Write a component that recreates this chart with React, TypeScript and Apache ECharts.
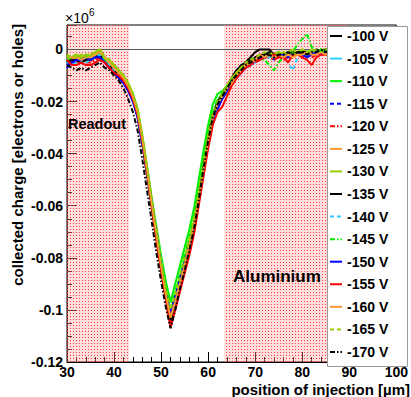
import React, { useEffect, useRef } from 'react';
import * as echarts from 'echarts';

// x positions of injection (µm)
const positions = [30,31,32,33,34,35,36,37,38,39,40,41,42,43,44,45,46,47,48,49,50,51,52,53,54,55,56,57,58,59,60,61,62,63,64,65,66,67,68,69,70,71,72,73,74,75,76,77,78,79,80,81,82,83,84,85,86];

const voltages = ['-100 V','-105 V','-110 V','-115 V','-120 V','-125 V','-130 V','-135 V','-140 V','-145 V','-150 V','-155 V','-160 V','-165 V','-170 V'];

// collected charge, units of 10^6
const v100 = [-0.003,-0.004,-0.003,-0.003,-0.004,-0.003,-0.003,-0.002,-0.004,-0.006, -0.007,-0.009,-0.011,-0.014,-0.018,-0.025,-0.035,-0.047,-0.060,-0.072, -0.084,-0.095,-0.104,-0.097,-0.090,-0.083,-0.075,-0.067,-0.056,-0.045, -0.034,-0.025,-0.020,-0.017,-0.014,-0.011,-0.008,-0.006,-0.005,-0.003, -0.001,0.000,0.000,0.000,-0.002,-0.001,-0.002,-0.001,-0.002,-0.001, -0.001,-0.002,-0.001,0.000,-0.001,0.000,-0.001];
const v105 = [-0.004,-0.005,-0.004,-0.004,-0.003,-0.004,-0.003,-0.002,-0.004,-0.006, -0.008,-0.009,-0.012,-0.015,-0.019,-0.025,-0.034,-0.045,-0.058,-0.070, -0.082,-0.093,-0.102,-0.096,-0.089,-0.082,-0.076,-0.069,-0.059,-0.048, -0.037,-0.028,-0.022,-0.019,-0.016,-0.013,-0.011,-0.009,-0.007,-0.006, -0.005,-0.004,-0.003,-0.003,-0.002,-0.003,-0.002,-0.003,-0.002,-0.001, -0.002,-0.001,-0.002,-0.001,-0.002,-0.001,-0.001];
const v110 = [-0.003,-0.003,-0.002,-0.003,-0.002,-0.003,-0.002,0.000,-0.003,-0.005, -0.006,-0.008,-0.010,-0.013,-0.017,-0.023,-0.033,-0.045,-0.057,-0.068, -0.079,-0.089,-0.097,-0.090,-0.083,-0.076,-0.069,-0.061,-0.050,-0.039, -0.029,-0.021,-0.017,-0.016,-0.014,-0.012,-0.010,-0.008,-0.006,-0.005, -0.004,-0.003,-0.002,-0.002,-0.003,-0.001,-0.002,-0.001,-0.001,-0.002, -0.001,-0.001,0.000,-0.001,0.000,-0.001,0.000];
const v115 = [-0.007,-0.005,-0.004,-0.003,-0.004,-0.003,-0.004,-0.003,-0.005,-0.007, -0.008,-0.010,-0.012,-0.015,-0.019,-0.026,-0.036,-0.047,-0.059,-0.071, -0.083,-0.094,-0.102,-0.095,-0.088,-0.081,-0.074,-0.067,-0.057,-0.046, -0.036,-0.027,-0.022,-0.018,-0.015,-0.012,-0.010,-0.008,-0.007,-0.005, -0.004,-0.004,-0.003,-0.002,-0.004,-0.002,-0.003,-0.002,-0.003,-0.001, -0.002,-0.002,-0.001,-0.002,-0.001,-0.001,-0.002];
const v120 = [-0.004,-0.005,-0.005,-0.004,-0.005,-0.005,-0.004,-0.003,-0.005,-0.007, -0.008,-0.010,-0.012,-0.015,-0.019,-0.025,-0.035,-0.047,-0.060,-0.072, -0.084,-0.095,-0.105,-0.098,-0.091,-0.084,-0.077,-0.069,-0.058,-0.047, -0.036,-0.027,-0.022,-0.019,-0.016,-0.013,-0.011,-0.009,-0.007,-0.006, -0.005,-0.004,-0.003,-0.003,-0.004,-0.003,-0.004,-0.003,-0.002,-0.002, -0.003,-0.002,-0.003,-0.002,-0.001,-0.002,-0.001];
const v125 = [-0.003,-0.004,-0.003,-0.003,-0.003,-0.003,-0.002,0.000,-0.003,-0.005, -0.007,-0.009,-0.011,-0.014,-0.018,-0.024,-0.034,-0.046,-0.058,-0.070, -0.082,-0.093,-0.101,-0.095,-0.088,-0.081,-0.074,-0.066,-0.056,-0.045, -0.034,-0.025,-0.021,-0.018,-0.014,-0.012,-0.009,-0.008,-0.006,-0.005, -0.004,-0.003,-0.002,-0.003,-0.002,-0.002,-0.001,-0.002,-0.001,-0.002, -0.001,-0.002,-0.001,-0.001,-0.002,-0.001,-0.001];
const v130 = [-0.002,-0.003,-0.002,-0.003,-0.002,-0.002,-0.001,0.000,-0.003,-0.004, -0.006,-0.008,-0.010,-0.013,-0.017,-0.023,-0.033,-0.045,-0.058,-0.070, -0.082,-0.092,-0.100,-0.094,-0.087,-0.080,-0.073,-0.066,-0.055,-0.044, -0.034,-0.025,-0.020,-0.017,-0.014,-0.011,-0.009,-0.007,-0.006,-0.004, -0.003,-0.003,-0.002,-0.001,-0.002,-0.001,-0.002,-0.001,0.000,-0.001, 0.000,-0.001,0.000,-0.001,0.000,0.000,-0.001];
const v135 = [-0.005,-0.004,-0.004,-0.005,-0.004,-0.004,-0.003,-0.002,-0.005,-0.006, -0.008,-0.010,-0.012,-0.015,-0.019,-0.026,-0.036,-0.048,-0.060,-0.072, -0.084,-0.095,-0.104,-0.097,-0.090,-0.083,-0.075,-0.067,-0.056,-0.045, -0.034,-0.025,-0.020,-0.017,-0.015,-0.012,-0.010,-0.008,-0.006,-0.004, -0.003,-0.002,-0.002,-0.001,-0.002,-0.002,-0.003,-0.002,-0.001,-0.002, -0.001,-0.001,-0.002,-0.001,-0.001,0.000,-0.001];
const v140 = [-0.005,-0.006,-0.005,-0.004,-0.005,-0.004,-0.003,-0.002,-0.004,-0.006, -0.008,-0.010,-0.012,-0.015,-0.020,-0.026,-0.035,-0.046,-0.058,-0.070, -0.082,-0.093,-0.101,-0.095,-0.088,-0.081,-0.075,-0.068,-0.058,-0.047, -0.037,-0.028,-0.022,-0.019,-0.016,-0.013,-0.011,-0.009,-0.007,-0.006, -0.004,-0.004,-0.003,-0.003,-0.003,-0.002,-0.003,-0.005,-0.008,-0.003, -0.002,-0.002,-0.001,-0.002,-0.001,-0.001,-0.002];
const v145 = [-0.004,-0.003,-0.003,-0.004,-0.003,-0.003,-0.002,-0.001,-0.004,-0.005, -0.007,-0.009,-0.011,-0.014,-0.018,-0.024,-0.034,-0.046,-0.058,-0.070, -0.081,-0.091,-0.099,-0.093,-0.086,-0.079,-0.072,-0.064,-0.053,-0.042, -0.032,-0.024,-0.019,-0.017,-0.014,-0.012,-0.010,-0.008,-0.006,-0.005, -0.004,-0.003,-0.004,-0.006,-0.008,-0.005,-0.003,-0.002,-0.001,0.002, 0.004,0.006,0.001,-0.001,0.000,-0.001,0.000];
const v150 = [-0.006,-0.005,-0.004,-0.004,-0.003,-0.004,-0.003,-0.003,-0.005,-0.007, -0.009,-0.011,-0.013,-0.016,-0.020,-0.026,-0.036,-0.047,-0.059,-0.071, -0.083,-0.094,-0.101,-0.095,-0.088,-0.082,-0.075,-0.068,-0.058,-0.047, -0.037,-0.028,-0.023,-0.019,-0.016,-0.013,-0.011,-0.009,-0.007,-0.006, -0.004,-0.003,-0.003,-0.002,-0.003,-0.002,-0.002,-0.003,-0.002,-0.002, -0.002,-0.003,-0.002,-0.001,-0.002,-0.001,-0.001];
const v155 = [-0.004,-0.006,-0.006,-0.005,-0.006,-0.006,-0.005,-0.004,-0.005,-0.007, -0.009,-0.010,-0.012,-0.015,-0.019,-0.025,-0.035,-0.047,-0.060,-0.073, -0.085,-0.096,-0.107,-0.100,-0.093,-0.086,-0.079,-0.071,-0.060,-0.049, -0.038,-0.029,-0.024,-0.022,-0.018,-0.014,-0.011,-0.009,-0.007,-0.006, -0.004,-0.004,-0.003,-0.002,-0.002,-0.003,-0.003,-0.005,-0.002,-0.002, -0.003,-0.004,-0.006,-0.003,-0.002,-0.002,-0.002];
const v160 = [-0.003,-0.003,-0.003,-0.004,-0.003,-0.003,-0.002,-0.001,-0.003,-0.005, -0.007,-0.009,-0.011,-0.014,-0.018,-0.024,-0.034,-0.046,-0.059,-0.071, -0.083,-0.094,-0.103,-0.097,-0.090,-0.083,-0.075,-0.067,-0.057,-0.046, -0.035,-0.026,-0.021,-0.018,-0.015,-0.013,-0.010,-0.008,-0.006,-0.005, -0.004,-0.002,-0.003,-0.002,-0.003,-0.002,-0.003,-0.002,-0.003,-0.002, -0.002,-0.001,-0.002,-0.002,-0.001,-0.002,-0.001];
const v165 = [-0.003,-0.002,-0.003,-0.002,-0.003,-0.002,-0.001,0.000,-0.003,-0.004, -0.006,-0.008,-0.010,-0.013,-0.017,-0.023,-0.033,-0.045,-0.057,-0.069, -0.081,-0.092,-0.100,-0.094,-0.087,-0.080,-0.073,-0.065,-0.055,-0.044, -0.033,-0.025,-0.020,-0.017,-0.014,-0.011,-0.009,-0.007,-0.005,-0.004, -0.003,-0.002,-0.001,-0.002,-0.001,-0.002,-0.001,-0.001,-0.002,-0.001, 0.000,-0.001,-0.001,0.000,-0.001,0.000,0.000];
const v170 = [-0.006,-0.007,-0.008,-0.007,-0.008,-0.007,-0.006,-0.005,-0.007,-0.008, -0.010,-0.012,-0.015,-0.019,-0.024,-0.031,-0.042,-0.054,-0.066,-0.078, -0.089,-0.099,-0.107,-0.100,-0.092,-0.085,-0.077,-0.069,-0.058,-0.046, -0.035,-0.026,-0.021,-0.018,-0.015,-0.012,-0.010,-0.008,-0.006,-0.005, -0.004,-0.003,-0.002,-0.002,-0.003,-0.002,-0.002,-0.001,-0.002,-0.001, -0.001,-0.002,-0.001,-0.001,0.000,-0.001,-0.001];

const seriesValues = [v100, v105, v110, v115, v120, v125, v130, v135, v140, v145, v150, v155, v160, v165, v170];

const seriesColors = ['#000000','#33ccff','#00ee00','#0000ff','#ff0000','#ff9933','#99cc00','#000000','#33ccff','#00ee00','#0000ff','#ff0000','#ff9933','#99cc00','#000000'];
const seriesDash = ['solid','solid','solid','dashed','dashdot','solid','solid','solid','dashed','dashdot','solid','solid','solid','dashed','dashdot'];

// shaded (metallised) regions in µm
const readoutRegion = [30, 43.2];
const aluminiumRegion = [63.4, 90];

const xTicks = { min: 30, max: 100, interval: 10 };
const yTicks = { min: -0.12, max: 0.0094, interval: 0.02 };

const FONT = 'Liberation Sans, Arial, Helvetica, sans-serif';

function dashOf(kind: string): any {
  if (kind === 'dashed') return [4, 3];
  if (kind === 'dashdot') return [5, 2, 1.5, 2];
  return 'solid';
}

export default function App() {
  const ref = useRef<HTMLDivElement>(null);

  useEffect(() => {
    if (!ref.current) return;
    const chart = echarts.init(ref.current, null, { renderer: 'svg' });

    const cv = document.createElement('canvas');
    cv.width = 3;
    cv.height = 3;
    const ctx = cv.getContext('2d');
    if (ctx) {
      ctx.fillStyle = 'rgba(255,160,160,0.35)';
      ctx.fillRect(0, 0, 3, 3);
      ctx.fillStyle = 'rgba(255,40,40,0.9)';
      ctx.fillRect(1, 1, 1, 1);
    }
    const pattern: any = { image: cv, repeat: 'repeat', imageWidth: 3, imageHeight: 3 };

    const series: any[] = seriesValues.map((vals, i) => ({
      name: voltages[i],
      type: 'line',
      data: positions.map((x, j) => [x, vals[j]]),
      symbol: 'none',
      z: 3,
      lineStyle: { color: seriesColors[i], width: 2, type: dashOf(seriesDash[i]) },
      itemStyle: { color: seriesColors[i] },
    }));

    series[0].markArea = {
      silent: true,
      z: 1,
      itemStyle: { color: pattern },
      data: [
        [{ xAxis: readoutRegion[0] }, { xAxis: readoutRegion[1] }],
        [{ xAxis: aluminiumRegion[0] }, { xAxis: aluminiumRegion[1] }],
      ],
    };
    series[0].markLine = {
      silent: true,
      z: 2,
      symbol: ['none', 'none'],
      label: { show: false },
      lineStyle: { color: '#555', width: 1, type: 'solid' },
      data: [{ yAxis: 0 }],
    };

    const labelStyle = { fontFamily: FONT, fontWeight: 'bold' as const, fontSize: 14, color: '#000' };

    // hand-built legend (so line dash styles show in the keys)
    const legendTop = 26;
    const legendFirst = 36;
    const legendStep = 22.57;
    const legendItems: any[] = [
      {
        type: 'rect', z: 30,
        shape: { x: 327.5, y: legendTop + 0.5, width: 80, height: 340 },
        style: { fill: '#fff', stroke: '#999', lineWidth: 1 },
      },
    ];
    voltages.forEach((name, i) => {
      const y = legendFirst + i * legendStep;
      const d = dashOf(seriesDash[i]);
      legendItems.push({
        type: 'line', z: 31,
        shape: { x1: 330, y1: y, x2: 342, y2: y },
        style: { stroke: seriesColors[i], lineWidth: 2, lineDash: d === 'solid' ? null : d },
      });
      legendItems.push({
        type: 'text', z: 31, x: 347, y,
        style: { text: name, fontFamily: FONT, fontWeight: 'bold', fontSize: 14, fill: '#000', textVerticalAlign: 'middle' },
      });
    });

    chart.setOption({
      animation: false,
      grid: { left: 67, top: 25, width: 331, height: 337, show: true, borderColor: '#000', borderWidth: 1, backgroundColor: 'transparent' },
      xAxis: {
        type: 'value',
        min: xTicks.min,
        max: xTicks.max,
        interval: xTicks.interval,
        axisLine: { show: true, onZero: false, lineStyle: { color: '#000', width: 1 } },
        axisTick: { show: true, inside: true, length: 10, lineStyle: { color: '#000' } },
        minorTick: { show: true, splitNumber: 5, length: 5, lineStyle: { color: '#000' } },
        splitLine: { show: false },
        axisLabel: { ...labelStyle, margin: 3 },
      },
      yAxis: {
        type: 'value',
        min: yTicks.min,
        max: yTicks.max,
        interval: yTicks.interval,
        axisLine: { show: true, onZero: false, lineStyle: { color: '#000', width: 1 } },
        axisTick: { show: true, inside: true, length: 10, lineStyle: { color: '#000' } },
        minorTick: { show: true, splitNumber: 4, length: 5, lineStyle: { color: '#000' } },
        splitLine: { show: false },
        axisLabel: {
          ...labelStyle,
          margin: 4,
          showMaxLabel: false,
          formatter: (v: number) => (Math.abs(v) < 1e-9 ? '0' : String(Math.round(v * 1000) / 1000)),
        },
      },
      graphic: [
        {
          type: 'text', x: 65, y: 18, z: 20,
          style: { text: '×10', fontFamily: FONT, fontSize: 14, fill: '#000', textVerticalAlign: 'middle' },
        },
        {
          type: 'text', x: 89, y: 12, z: 20,
          style: { text: '6', fontFamily: FONT, fontSize: 10, fill: '#000', textVerticalAlign: 'middle' },
        },
        {
          type: 'text', x: 17, y: 24, rotation: Math.PI / 2, z: 20,
          style: { text: 'collected charge [electrons or holes]', fontFamily: FONT, fontWeight: 'bold', fontSize: 15, fill: '#000', textAlign: 'right', textVerticalAlign: 'middle' },
        },
        {
          type: 'text', x: 410, y: 389, z: 20,
          style: { text: 'position of injection [µm]', fontFamily: FONT, fontWeight: 'bold', fontSize: 15, fill: '#000', textAlign: 'right', textVerticalAlign: 'middle' },
        },
        {
          type: 'text', x: 68, y: 124, z: 20,
          style: { text: 'Readout', fontFamily: FONT, fontWeight: 'bold', fontSize: 14.5, fill: '#000', textVerticalAlign: 'middle' },
        },
        {
          type: 'text', x: 233, y: 276, z: 20,
          style: { text: 'Aluminium', fontFamily: FONT, fontWeight: 'bold', fontSize: 17, fill: '#000', textVerticalAlign: 'middle' },
        },
        ...legendItems,
      ],
      series,
    });

    return () => chart.dispose();
  }, []);

  return <div ref={ref} style={{ position: 'fixed', left: 0, top: 0, width: 411, height: 397, background: '#fff' }} />;
}
